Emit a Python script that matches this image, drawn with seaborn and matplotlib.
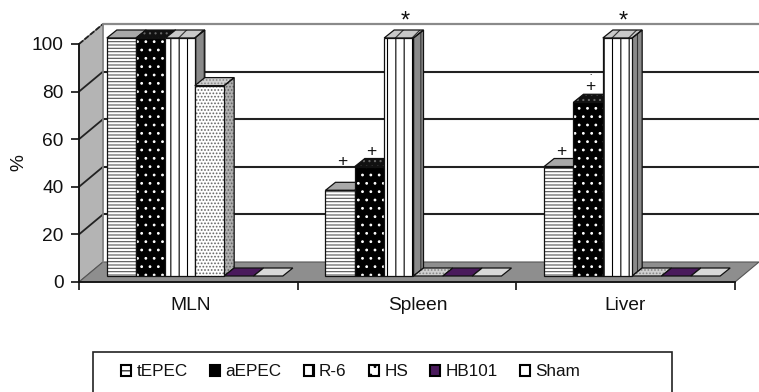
import matplotlib
matplotlib.use("Agg")
import matplotlib.pyplot as plt
from matplotlib.patches import Polygon, Patch, Rectangle
from matplotlib.transforms import ScaledTranslation
import pandas as pd
import seaborn as sns

# ---------- data ----------
organs = ["MLN", "Spleen", "Liver"]
strains = ["tEPEC", "aEPEC", "R-6", "HS", "HB101", "Sham"]
tepec = [100, 36, 46]
aepec = [100, 46, 73]
r6 = [100, 100, 100]
hs = [80, 0, 0]
hb101 = [0, 0, 0]
sham = [0, 0, 0]
yticks = [0, 20, 40, 60, 80, 100]
marks = [("+", 1, 0, 48), ("+", 1, 1, 52.5), ("*", 1, 2, 107),
         ("+", 2, 0, 52.5), ("+", 2, 1, 79.5), (".", 2, 1, 85.2), ("*", 2, 2, 107)]

# ---------- styles: face, hatch colour, hatch, top face, side face ----------
front = [("white", "#555555", "-----"), ("black", "white", ".."), ("white", "black", "||"),
         ("white", "#666666", "....."), ("#4a1a5c", "#4a1a5c", ""), ("#d8d8d8", "#d8d8d8", "")]
top = [("#a8a8a8", "#a8a8a8", ""), ("#111111", "#666666", "..."), ("#c8c8c8", "#333333", "//"),
       ("#cfcfcf", "#888888", "....."), ("#4a1a5c", "#4a1a5c", ""), ("#d8d8d8", "#d8d8d8", "")]
side = [("#808080", "#808080", ""), ("#111111", "#666666", "..."), ("#8a8a8a", "#333333", "||"),
        ("#b0b0b0", "#666666", "....."), ("#4a1a5c", "#4a1a5c", ""), ("#d8d8d8", "#d8d8d8", "")]
legend_face = ["white", "black", "white", "white", "#4a1a5c", "white"]
legend_hatch = ["--", "", "||", "..", "", ""]

W, H = 759, 392
sns.set_theme(style="white")
plt.rcParams["font.family"] = ["Liberation Sans", "DejaVu Sans"]
plt.rcParams["hatch.linewidth"] = 0.8
fig = plt.figure(figsize=(W / 100, H / 100), dpi=100, facecolor="white")


def rect_px(x0, x1, ytop, ybot):
    return [x0 / W, 1 - ybot / H, (x1 - x0) / W, (ybot - ytop) / H]


# front plane with ticks, wall, floor and grid
ax = fig.add_axes(rect_px(79, 735, 44, 282))
ax.set_xlim(-0.5, 2.5)
ax.set_ylim(0, 100)
ux = 656 / 3       # px per category
uy = 238 / 100     # px per percent
wx, wy = 24 / ux, 20 / uy     # depth of the chart box
L, R = -0.5, 2.5

ax.add_patch(Polygon([(L, 0), (L + wx, wy), (L + wx, 100 + wy), (L, 100)], fc="#b4b4b4",
                     ec="#555555", lw=0.8, clip_on=False, zorder=1))
ax.add_patch(Polygon([(L, 0), (L + wx, wy), (R + wx, wy), (R, 0)], fc="#8e8e8e",
                     ec="#555555", lw=0.8, clip_on=False, zorder=1))
for v in yticks:
    if v:
        col, lw = ("#8a8a8a", 1.6) if v == 100 else ("#222222", 1.5)
        ax.plot([L + wx, R + wx], [v + wy, v + wy], color=col, lw=lw, clip_on=False, zorder=1.5,
                solid_capstyle="butt")
    if v:
        ax.plot([L, L + wx], [v, v + wy], color="#222222", lw=1.3, clip_on=False, zorder=1.5,
                ls=(0, (3, 1)) if v == 100 else "-")
ax.plot([L + wx, L + wx], [wy, 100 + wy], color="#888888", lw=1.2, clip_on=False, zorder=1.5)

ax.set_yticks(yticks)
ax.set_xticks([0, 1, 2], organs)
ax.set_xticks([-0.5, 0.5, 1.5, 2.5], minor=True)
ax.tick_params(axis="x", which="major", length=0, labelsize=13.8, pad=10.5, colors="#111111")
ax.tick_params(axis="x", which="minor", length=6, width=1.2, color="#111111", bottom=True)
ax.tick_params(axis="y", length=6, width=1.2, color="#111111", left=True, labelsize=13.8,
               labelcolor="#111111", pad=5)
ax.set_ylabel("%", fontsize=13.8, color="#111111", labelpad=3)
sns.despine(ax=ax, top=True, right=True)
for s in ("left", "bottom"):
    ax.spines[s].set_color("#111111")
    ax.spines[s].set_linewidth(1.3)
ax.patch.set_alpha(0)
lab = ax.get_xticklabels()
for t, dx in zip(lab, [2, 11, -1]):
    t.set_transform(t.get_transform() + ScaledTranslation(dx / 100, 0, fig.dpi_scale_trans))

# bars, drawn on a plane shifted into the box
df = pd.DataFrame({"Organ": organs, "tEPEC": tepec, "aEPEC": aepec, "R-6": r6,
                   "HS": hs, "HB101": hb101, "Sham": sham}).melt(
    id_vars="Organ", var_name="Strain", value_name="pct")
bx = fig.add_axes(rect_px(85.5, 741.5, 38, 276), zorder=3)
sns.barplot(data=df, x="Organ", y="pct", hue="Strain", order=organs, hue_order=strains,
            width=0.805, gap=0, dodge=True, saturation=1, legend=False, ax=bx)
bx.set_xlim(-0.5, 2.5)
bx.set_ylim(0, 100)
bx.axis("off")
dx, dy = 10 / ux, 8 / uy

for i, cont in enumerate(bx.containers):
    for j, bar in enumerate(cont):
        x0, w, h = bar.get_x(), bar.get_width(), bar.get_height()
        fc, hc, ha = front[i]
        bar.set(facecolor=fc, edgecolor=hc, hatch=ha, linewidth=0, zorder=11 + 2 * i)
        tf, th, ta = top[i]
        bx.add_patch(Polygon([(x0, h), (x0 + dx, h + dy), (x0 + w + dx, h + dy), (x0 + w, h)],
                             fc=tf, ec=th, hatch=ta, lw=0, clip_on=False, zorder=10 + 2 * i))
        bx.add_patch(Polygon([(x0, h), (x0 + dx, h + dy), (x0 + w + dx, h + dy), (x0 + w, h)],
                             fill=False, ec="#111111", lw=0.9, clip_on=False, zorder=10.5 + 2 * i))
        if h > 0:
            sf, sh, sa = side[i]
            poly = [(x0 + w, 0), (x0 + w + dx, dy), (x0 + w + dx, h + dy), (x0 + w, h)]
            bx.add_patch(Polygon(poly, fc=sf, ec=sh, hatch=sa, lw=0, clip_on=False, zorder=10 + 2 * i))
            bx.add_patch(Polygon(poly, fill=False, ec="#111111", lw=0.9, clip_on=False,
                                 zorder=10.5 + 2 * i))
            bx.add_patch(Rectangle((x0, 0), w, h, fill=False, ec="#111111", lw=0.9,
                                   clip_on=False, zorder=11.5 + 2 * i))

mark_size = {"+": 12.5, "*": 17, ".": 6}
for sym, g, s, y in marks:
    b = bx.containers[s][g]
    off = 6 if sym == "*" else 2
    bx.text(b.get_x() + b.get_width() / 2 + off / ux, y, sym, ha="center", va="center",
            fontsize=mark_size[sym], fontweight="bold" if sym == "." else "normal",
            color="#111111", clip_on=False, zorder=40)

# legend: box drawn behind a frameless legend, content offset to the left as in the original
fig.add_artist(Rectangle((93 / W, 1 - 397 / H), 579 / W, 45 / H, transform=fig.transFigure,
                         fc="white", ec="#222222", lw=1.2))
handles = [Patch(facecolor=legend_face[i], edgecolor="black", linewidth=1.5,
                 hatch=legend_hatch[i], label=n) for i, n in enumerate(strains)]
leg = fig.legend(handles=handles, ncol=6, loc="center left", bbox_to_anchor=(121 / W, 1 - 372 / H),
                 bbox_transform=fig.transFigure, fontsize=12.3, frameon=False,
                 handlelength=0.6, handleheight=0.6, handletextpad=0.3, columnspacing=1.3,
                 borderpad=0, borderaxespad=0, labelcolor="#111111")

fig.savefig("out.png", dpi=100, facecolor="white")
